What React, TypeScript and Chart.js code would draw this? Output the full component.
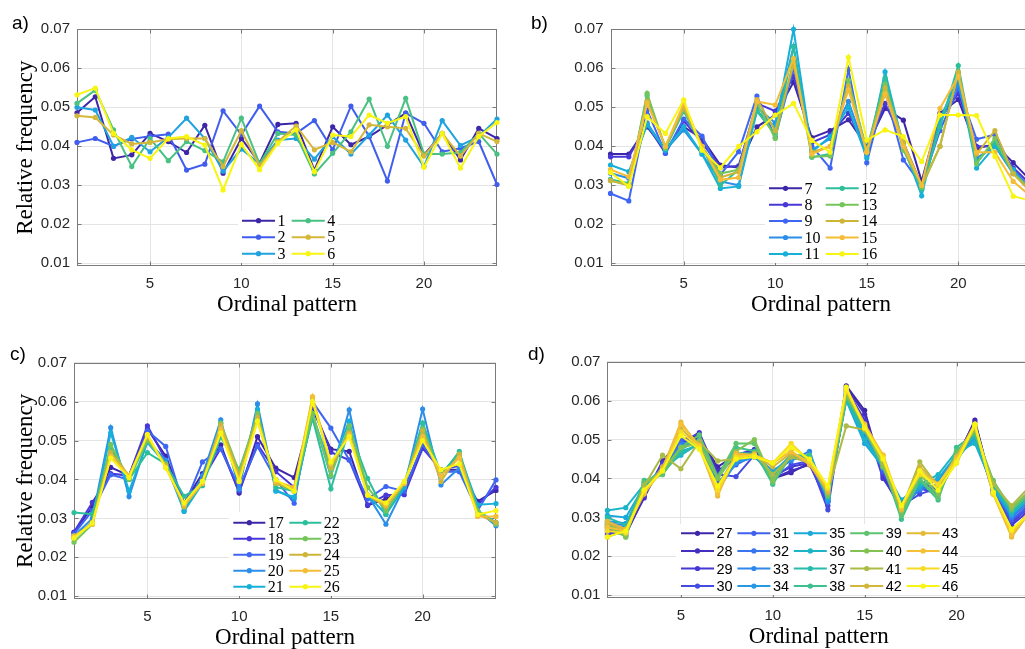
import React, { useEffect, useRef } from "react";
import { Chart, registerables } from "chart.js";

Chart.register(...registerables);

// ---------- shared axis data ----------
const PATTERNS = [1, 2, 3, 4, 5, 6, 7, 8, 9, 10, 11, 12, 13, 14, 15, 16, 17, 18, 19, 20, 21, 22, 23, 24];
const X_TICKS = [5, 10, 15, 20];
const Y_TICKS = [0.01, 0.02, 0.03, 0.04, 0.05, 0.06, 0.07];
const Y_MIN = 0.0093;
const Y_MAX = 0.07;
const X_TITLE = "Ordinal pattern";
const Y_TITLE = "Relative frequency";

// ---------- panel a ----------
const A_LABELS = ["1", "2", "3", "4", "5", "6"];
const S1 = [0.0486, 0.0527, 0.0369, 0.0378, 0.0433, 0.0412, 0.0384, 0.0454, 0.0331, 0.042, 0.0357, 0.0456, 0.0459, 0.0339, 0.045, 0.0404, 0.0425, 0.0455, 0.0485, 0.0378, 0.0433, 0.0365, 0.0446, 0.042];
const S2 = [0.041, 0.042, 0.04, 0.0419, 0.0426, 0.0431, 0.0339, 0.0354, 0.0491, 0.043, 0.0503, 0.0437, 0.0433, 0.0466, 0.0391, 0.0503, 0.0425, 0.0311, 0.0485, 0.0459, 0.0386, 0.0395, 0.0412, 0.0302];
const S3 = [0.05, 0.0493, 0.04, 0.0423, 0.0386, 0.0423, 0.0472, 0.042, 0.0336, 0.0393, 0.0355, 0.0416, 0.042, 0.0367, 0.0425, 0.038, 0.0429, 0.048, 0.0416, 0.0348, 0.0466, 0.0402, 0.0425, 0.047];
const S4 = [0.051, 0.0544, 0.0442, 0.0348, 0.042, 0.0363, 0.0412, 0.0389, 0.036, 0.0472, 0.0355, 0.0433, 0.0429, 0.0329, 0.0382, 0.0437, 0.0521, 0.04, 0.0523, 0.038, 0.038, 0.0384, 0.0433, 0.038];
const S5 = [0.0478, 0.0474, 0.0429, 0.0406, 0.041, 0.0418, 0.042, 0.042, 0.0348, 0.044, 0.035, 0.0412, 0.0452, 0.0391, 0.041, 0.0386, 0.0455, 0.045, 0.0446, 0.0375, 0.0433, 0.0375, 0.0433, 0.0412];
const S6 = [0.0532, 0.0549, 0.0433, 0.0391, 0.0369, 0.042, 0.0425, 0.0403, 0.0288, 0.0405, 0.034, 0.0408, 0.0442, 0.0335, 0.0429, 0.0425, 0.048, 0.0459, 0.0476, 0.0346, 0.0433, 0.0344, 0.0425, 0.0461];

// ---------- panel b ----------
const B_LABELS = ["7", "8", "9", "10", "11", "12", "13", "14", "15", "16"];
const S7 = [0.038, 0.038, 0.045, 0.039, 0.045, 0.042, 0.0352, 0.0345, 0.045, 0.048, 0.0565, 0.0422, 0.044, 0.0468, 0.04, 0.0497, 0.0467, 0.031, 0.0485, 0.052, 0.0395, 0.0405, 0.0358, 0.031];
const S8 = [0.0373, 0.0373, 0.0455, 0.0382, 0.0465, 0.041, 0.0345, 0.035, 0.051, 0.049, 0.058, 0.041, 0.043, 0.0485, 0.039, 0.051, 0.041, 0.03, 0.047, 0.0535, 0.04, 0.04, 0.0345, 0.03];
const S9 = [0.0279, 0.026, 0.0493, 0.0382, 0.047, 0.0426, 0.0327, 0.0386, 0.0529, 0.0423, 0.06, 0.04, 0.0344, 0.0597, 0.0358, 0.054, 0.0365, 0.03, 0.044, 0.055, 0.0418, 0.043, 0.034, 0.029];
const S10 = [0.0331, 0.0318, 0.046, 0.039, 0.0442, 0.038, 0.031, 0.03, 0.05, 0.046, 0.0656, 0.039, 0.042, 0.0515, 0.038, 0.055, 0.04, 0.029, 0.046, 0.056, 0.037, 0.04, 0.033, 0.029];
const S11 = [0.0352, 0.0335, 0.0455, 0.039, 0.045, 0.038, 0.0292, 0.0297, 0.049, 0.045, 0.07, 0.0385, 0.0425, 0.05, 0.037, 0.0591, 0.04, 0.0273, 0.047, 0.0575, 0.0344, 0.04, 0.034, 0.028];
const S12 = [0.0315, 0.0305, 0.053, 0.0395, 0.049, 0.04, 0.03, 0.034, 0.049, 0.043, 0.0655, 0.0372, 0.038, 0.056, 0.039, 0.0575, 0.0405, 0.029, 0.045, 0.0607, 0.036, 0.041, 0.033, 0.029];
const S13 = [0.0312, 0.03, 0.0536, 0.0395, 0.0495, 0.04, 0.033, 0.034, 0.051, 0.042, 0.062, 0.0373, 0.0375, 0.057, 0.039, 0.056, 0.039, 0.0295, 0.04, 0.059, 0.0355, 0.042, 0.033, 0.029];
const S14 = [0.0312, 0.03, 0.0515, 0.04, 0.05, 0.04, 0.032, 0.0335, 0.052, 0.044, 0.061, 0.0385, 0.04, 0.0555, 0.0385, 0.055, 0.041, 0.03, 0.04, 0.059, 0.038, 0.044, 0.033, 0.028];
const S15 = [0.034, 0.0322, 0.051, 0.04, 0.051, 0.04, 0.0314, 0.032, 0.0515, 0.0506, 0.0625, 0.038, 0.04, 0.0545, 0.0385, 0.0535, 0.04, 0.03, 0.0497, 0.058, 0.0385, 0.0385, 0.031, 0.027];
const S16 = [0.0333, 0.0297, 0.0476, 0.0433, 0.0519, 0.039, 0.0345, 0.04, 0.0437, 0.048, 0.051, 0.0415, 0.0385, 0.0628, 0.0416, 0.0442, 0.0425, 0.0361, 0.048, 0.048, 0.0479, 0.0374, 0.0272, 0.026];

// ---------- panel c ----------
const C_LABELS = ["17", "18", "19", "20", "21", "22", "23", "24", "25", "26"];
const S17 = [0.0264, 0.033, 0.0431, 0.041, 0.053, 0.046, 0.034, 0.0415, 0.0489, 0.0365, 0.051, 0.0429, 0.0405, 0.058, 0.0478, 0.0472, 0.0333, 0.035, 0.0375, 0.0485, 0.0425, 0.0425, 0.0344, 0.0372];
const S18 = [0.0265, 0.0341, 0.0415, 0.041, 0.0538, 0.045, 0.034, 0.04, 0.048, 0.037, 0.049, 0.042, 0.038, 0.059, 0.047, 0.045, 0.0335, 0.036, 0.0361, 0.048, 0.0425, 0.0435, 0.0335, 0.038];
const S19 = [0.026, 0.032, 0.0412, 0.04, 0.0525, 0.0485, 0.033, 0.0445, 0.0478, 0.038, 0.0485, 0.04, 0.0339, 0.06, 0.0532, 0.045, 0.035, 0.0382, 0.037, 0.049, 0.042, 0.042, 0.032, 0.0399];
const S20 = [0.0255, 0.03, 0.0533, 0.0356, 0.05, 0.045, 0.032, 0.041, 0.0553, 0.0375, 0.0594, 0.0373, 0.035, 0.057, 0.0408, 0.0579, 0.036, 0.0285, 0.038, 0.0581, 0.0386, 0.043, 0.032, 0.0281];
const S21 = [0.025, 0.029, 0.052, 0.037, 0.0495, 0.044, 0.0318, 0.039, 0.0545, 0.04, 0.058, 0.037, 0.0355, 0.0565, 0.043, 0.055, 0.036, 0.031, 0.038, 0.0545, 0.0415, 0.0465, 0.0335, 0.0338];
const S22 = [0.0315, 0.0311, 0.048, 0.04, 0.0469, 0.044, 0.0357, 0.0384, 0.051, 0.0425, 0.056, 0.038, 0.037, 0.0557, 0.0376, 0.053, 0.0403, 0.031, 0.039, 0.0545, 0.041, 0.0472, 0.032, 0.029];
const S23 = [0.0239, 0.0285, 0.049, 0.04, 0.05, 0.044, 0.033, 0.039, 0.0545, 0.042, 0.057, 0.039, 0.037, 0.057, 0.041, 0.0538, 0.038, 0.032, 0.039, 0.053, 0.041, 0.046, 0.032, 0.0285];
const S24 = [0.025, 0.029, 0.047, 0.041, 0.051, 0.0435, 0.033, 0.0395, 0.054, 0.041, 0.056, 0.039, 0.0375, 0.061, 0.043, 0.052, 0.036, 0.033, 0.039, 0.0525, 0.0395, 0.0465, 0.031, 0.029];
const S25 = [0.0255, 0.0285, 0.046, 0.041, 0.0515, 0.043, 0.0335, 0.039, 0.053, 0.04, 0.055, 0.0395, 0.038, 0.0613, 0.044, 0.0515, 0.036, 0.0335, 0.039, 0.051, 0.041, 0.0455, 0.0305, 0.0305];
const S26 = [0.025, 0.0288, 0.0455, 0.0405, 0.0515, 0.043, 0.034, 0.0395, 0.052, 0.0395, 0.055, 0.04, 0.037, 0.06, 0.0445, 0.051, 0.036, 0.034, 0.0395, 0.05, 0.0425, 0.044, 0.031, 0.032];

// ---------- panel d ----------
const D_LABELS = ["27", "28", "29", "30", "31", "32", "33", "34", "35", "36", "37", "38", "39", "40", "41", "42", "43", "44", "45", "46"];
const S27 = [0.0265, 0.0255, 0.0355, 0.044, 0.0495, 0.0505, 0.043, 0.046, 0.047, 0.04, 0.0415, 0.044, 0.0355, 0.0638, 0.0575, 0.041, 0.0325, 0.039, 0.037, 0.045, 0.055, 0.0365, 0.0285, 0.033];
const S28 = [0.027, 0.026, 0.035, 0.0445, 0.05, 0.051, 0.042, 0.045, 0.0465, 0.04, 0.042, 0.0435, 0.034, 0.0635, 0.0565, 0.0405, 0.032, 0.0385, 0.0365, 0.0455, 0.0545, 0.037, 0.029, 0.0335];
const S29 = [0.026, 0.0265, 0.0355, 0.044, 0.049, 0.0518, 0.041, 0.046, 0.0475, 0.0405, 0.043, 0.044, 0.033, 0.063, 0.055, 0.04, 0.033, 0.0375, 0.036, 0.045, 0.053, 0.0365, 0.028, 0.032];
const S30 = [0.0255, 0.027, 0.036, 0.0435, 0.0495, 0.05, 0.041, 0.0405, 0.046, 0.04, 0.0435, 0.0445, 0.032, 0.0625, 0.053, 0.0415, 0.033, 0.036, 0.0375, 0.0445, 0.052, 0.036, 0.029, 0.0325];
const S31 = [0.0275, 0.027, 0.0365, 0.043, 0.05, 0.0495, 0.039, 0.0435, 0.046, 0.041, 0.045, 0.045, 0.034, 0.062, 0.0515, 0.042, 0.032, 0.0375, 0.038, 0.045, 0.0515, 0.037, 0.0295, 0.033];
const S32 = [0.028, 0.0275, 0.037, 0.0425, 0.049, 0.0495, 0.038, 0.044, 0.0455, 0.0415, 0.045, 0.046, 0.0345, 0.0615, 0.051, 0.0425, 0.033, 0.037, 0.0385, 0.0455, 0.051, 0.0375, 0.03, 0.034];
const S33 = [0.0285, 0.028, 0.037, 0.042, 0.0485, 0.049, 0.038, 0.0445, 0.046, 0.042, 0.0445, 0.047, 0.034, 0.0615, 0.0505, 0.043, 0.0335, 0.038, 0.0395, 0.0455, 0.051, 0.0375, 0.0305, 0.0345];
const S34 = [0.029, 0.0285, 0.0375, 0.042, 0.048, 0.0495, 0.037, 0.044, 0.0455, 0.042, 0.045, 0.0455, 0.0345, 0.061, 0.05, 0.043, 0.033, 0.0375, 0.04, 0.045, 0.0505, 0.037, 0.0305, 0.035];
const S35 = [0.0305, 0.03, 0.038, 0.042, 0.047, 0.0485, 0.038, 0.045, 0.046, 0.041, 0.046, 0.045, 0.0355, 0.06, 0.049, 0.043, 0.0345, 0.038, 0.04, 0.046, 0.0495, 0.0375, 0.031, 0.0355];
const S36 = [0.0318, 0.0325, 0.0385, 0.0425, 0.046, 0.049, 0.038, 0.045, 0.046, 0.0415, 0.046, 0.0455, 0.035, 0.0605, 0.05, 0.043, 0.0335, 0.0385, 0.041, 0.047, 0.049, 0.038, 0.031, 0.035];
const S37 = [0.03, 0.028, 0.039, 0.0415, 0.0465, 0.049, 0.04, 0.0465, 0.0465, 0.04, 0.046, 0.0455, 0.0355, 0.06, 0.052, 0.043, 0.032, 0.039, 0.036, 0.0465, 0.051, 0.0385, 0.0315, 0.0355];
const S38 = [0.029, 0.025, 0.0395, 0.041, 0.0475, 0.05, 0.04, 0.048, 0.047, 0.0385, 0.046, 0.046, 0.036, 0.061, 0.053, 0.0435, 0.0295, 0.0395, 0.0345, 0.048, 0.0515, 0.039, 0.032, 0.036];
const S39 = [0.028, 0.0255, 0.039, 0.041, 0.048, 0.0512, 0.0405, 0.049, 0.049, 0.039, 0.0465, 0.0445, 0.0355, 0.061, 0.0535, 0.0435, 0.0305, 0.04, 0.035, 0.047, 0.052, 0.0395, 0.032, 0.0365];
const S40 = [0.0275, 0.025, 0.0385, 0.042, 0.048, 0.049, 0.04, 0.047, 0.05, 0.0395, 0.046, 0.0445, 0.036, 0.0615, 0.054, 0.043, 0.0315, 0.041, 0.036, 0.046, 0.0525, 0.039, 0.0325, 0.037];
const S41 = [0.025, 0.0265, 0.038, 0.046, 0.0425, 0.0495, 0.0445, 0.045, 0.0465, 0.041, 0.0455, 0.044, 0.0365, 0.0535, 0.0525, 0.044, 0.032, 0.0443, 0.038, 0.044, 0.053, 0.0385, 0.033, 0.038];
const S42 = [0.0285, 0.0265, 0.0365, 0.043, 0.053, 0.048, 0.038, 0.046, 0.046, 0.043, 0.0465, 0.044, 0.0365, 0.0625, 0.053, 0.045, 0.0325, 0.043, 0.0385, 0.045, 0.0535, 0.0365, 0.0255, 0.032];
const S43 = [0.029, 0.027, 0.036, 0.0425, 0.0545, 0.048, 0.0355, 0.0465, 0.046, 0.044, 0.047, 0.0435, 0.037, 0.0625, 0.0535, 0.046, 0.032, 0.042, 0.0385, 0.0455, 0.054, 0.036, 0.025, 0.0315];
const S44 = [0.0275, 0.0265, 0.0365, 0.042, 0.054, 0.0485, 0.036, 0.046, 0.046, 0.044, 0.047, 0.044, 0.0375, 0.063, 0.054, 0.046, 0.0325, 0.0415, 0.0385, 0.045, 0.0535, 0.036, 0.0255, 0.032];
const S45 = [0.0265, 0.026, 0.037, 0.042, 0.052, 0.048, 0.037, 0.0455, 0.046, 0.044, 0.049, 0.0445, 0.0375, 0.063, 0.0535, 0.0455, 0.033, 0.041, 0.0385, 0.0445, 0.0535, 0.036, 0.0265, 0.031];
const S46 = [0.025, 0.0265, 0.037, 0.042, 0.051, 0.0475, 0.038, 0.045, 0.0455, 0.044, 0.048, 0.045, 0.038, 0.0635, 0.053, 0.045, 0.033, 0.042, 0.037, 0.044, 0.054, 0.0365, 0.027, 0.031];

const A_SERIES = [S1, S2, S3, S4, S5, S6];
const B_SERIES = [S7, S8, S9, S10, S11, S12, S13, S14, S15, S16];
const C_SERIES = [S17, S18, S19, S20, S21, S22, S23, S24, S25, S26];
const D_SERIES = [S27, S28, S29, S30, S31, S32, S33, S34, S35, S36, S37, S38, S39, S40, S41, S42, S43, S44, S45, S46];

// ---------- styles ----------
const PALETTE = ["#3e26a8", "#4838d8", "#3f66f2", "#2b8ee9", "#17b0d8", "#2dbf9c", "#74c55a", "#cdb53a", "#f5bd37", "#f8f512"];
const SANS = "'Liberation Sans', Arial, Helvetica, sans-serif";
const SERIF = "'Liberation Serif', 'Times New Roman', serif";
const GRID_COLOR = "#e4e4e4";
const AXIS_COLOR = "#7a7a7a";
const TEXT_COLOR = "#262626";

function hexToRgb(h: string) {
  const n = parseInt(h.slice(1), 16);
  return [(n >> 16) & 255, (n >> 8) & 255, n & 255];
}
function samplePalette(n: number): string[] {
  const out: string[] = [];
  for (let i = 0; i < n; i++) {
    const t = n === 1 ? 0 : (i / (n - 1)) * (PALETTE.length - 1);
    const k = Math.min(Math.floor(t), PALETTE.length - 2);
    const f = t - k;
    const a = hexToRgb(PALETTE[k]);
    const b = hexToRgb(PALETTE[k + 1]);
    const c = a.map((v, j) => Math.round(v + (b[j] - v) * f));
    out.push(`rgb(${c[0]},${c[1]},${c[2]})`);
  }
  return out;
}

type LegendCfg = {
  x0: number; y0: number; colW: number; rowH: number; rows: number; lineLen: number;
  font: string; box: [number, number, number, number];
};
type PanelCfg = {
  tag: string; tagX: number; tagY: number;
  left: number; top: number; width: number; height: number;
  padL: number; padT: number; padR: number; yW: number; yTitle: boolean;
  series: number[][]; labels: string[]; legend: LegendCfg;
};

const PANELS: PanelCfg[] = [
  {
    tag: "a)", tagX: 12, tagY: 22.5, left: 0, top: 0, width: 520, height: 319,
    padL: 12, padT: 29.3, padR: 23, yW: 65, yTitle: true, series: A_SERIES, labels: A_LABELS,
    legend: { x0: 242, y0: 220.7, colW: 49.7, rowH: 16.5, rows: 3, lineLen: 33, font: `16px ${SERIF}`, box: [238, 211, 100, 52] },
  },
  {
    tag: "b)", tagX: 531, tagY: 22.5, left: 530, top: 0, width: 520, height: 319,
    padL: 0, padT: 29.3, padR: 18.5, yW: 80.5, yTitle: false, series: B_SERIES, labels: B_LABELS,
    legend: { x0: 769, y0: 188.3, colW: 56.7, rowH: 16.4, rows: 5, lineLen: 33, font: `16px ${SERIF}`, box: [765, 180, 111, 83] },
  },
  {
    tag: "c)", tagX: 10, tagY: 354, left: 0, top: 330, width: 520, height: 322,
    padL: 12, padT: 32.7, padR: 24, yW: 62, yTitle: true, series: C_SERIES, labels: C_LABELS,
    legend: { x0: 233.3, y0: 522.7, colW: 56, rowH: 16, rows: 5, lineLen: 32, font: `16px ${SERIF}`, box: [229, 512, 111, 84] },
  },
  {
    tag: "d)", tagX: 528, tagY: 354, left: 530, top: 330, width: 520, height: 321,
    padL: 0, padT: 31.7, padR: 20, yW: 77.4, yTitle: false, series: D_SERIES, labels: D_LABELS,
    legend: { x0: 681, y0: 533.3, colW: 56.4, rowH: 17.6, rows: 4, lineLen: 33, font: `14.5px ${SANS}`, box: [676, 524, 284, 71] },
  },
];

const framePlugin = {
  id: "matlabFrame",
  beforeDatasetsDraw(chart: any) {
    const { ctx, chartArea: a, scales } = chart;
    const L = Math.round(a.left) + 0.5, R = Math.round(a.right) - 0.5;
    const T = Math.round(a.top) + 0.5, B = Math.round(a.bottom) - 0.5;
    ctx.save();
    ctx.strokeStyle = AXIS_COLOR;
    ctx.lineWidth = 1;
    ctx.strokeRect(L, T, R - L, B - T);
    ctx.beginPath();
    X_TICKS.forEach((v) => {
      const px = Math.round(scales.x.getPixelForValue(v)) + 0.5;
      ctx.moveTo(px, B); ctx.lineTo(px, B - 4);
      ctx.moveTo(px, T); ctx.lineTo(px, T + 4);
    });
    Y_TICKS.forEach((v) => {
      const py = Math.round(scales.y.getPixelForValue(v)) + 0.5;
      ctx.moveTo(L, py); ctx.lineTo(L + 4, py);
      ctx.moveTo(R, py); ctx.lineTo(R - 4, py);
    });
    ctx.stroke();
    ctx.restore();
  },
};

function makeLegendPlugin(p: PanelCfg) {
  return {
    id: "panelLegend",
    afterDatasetsDraw(chart: any) {
      const { ctx } = chart;
      const lg = p.legend;
      ctx.save();
      ctx.translate(-p.left, -p.top);
      ctx.fillStyle = "#ffffff";
      ctx.fillRect(lg.box[0], lg.box[1], lg.box[2], lg.box[3]);
      chart.data.datasets.forEach((ds: any, i: number) => {
        const col = Math.floor(i / lg.rows);
        const row = i % lg.rows;
        const x = lg.x0 + col * lg.colW;
        const y = lg.y0 + row * lg.rowH;
        ctx.strokeStyle = ds.borderColor;
        ctx.lineWidth = 2;
        ctx.beginPath();
        ctx.moveTo(x, y);
        ctx.lineTo(x + lg.lineLen, y);
        ctx.stroke();
        ctx.fillStyle = ds.borderColor;
        ctx.beginPath();
        ctx.arc(x + lg.lineLen / 2, y, 2.6, 0, Math.PI * 2);
        ctx.fill();
        ctx.fillStyle = "#000000";
        ctx.font = lg.font;
        ctx.textAlign = "left";
        ctx.textBaseline = "middle";
        ctx.fillText(ds.label, x + lg.lineLen + 2.5, y + 1);
      });
      ctx.restore();
    },
  };
}

function Panel({ p }: { p: PanelCfg }) {
  const ref = useRef<HTMLCanvasElement | null>(null);
  useEffect(() => {
    if (!ref.current) return;
    const colors = samplePalette(p.series.length);
    const chart = new Chart(ref.current, {
      type: "line",
      data: {
        datasets: p.series.map((vals, i) => ({
          label: p.labels[i],
          data: vals.map((v, j) => ({ x: PATTERNS[j], y: v })),
          borderColor: colors[i],
          backgroundColor: colors[i],
          pointBackgroundColor: colors[i],
          pointBorderWidth: 0,
          pointRadius: 2.6,
          borderWidth: 2,
          tension: 0,
          fill: false,
          clip: false as any,
          order: -i,
        })),
      },
      options: {
        animation: false,
        responsive: false,
        maintainAspectRatio: false,
        events: [],
        layout: { padding: { left: p.padL, top: p.padT, right: p.padR, bottom: 0 } },
        plugins: { legend: { display: false }, tooltip: { enabled: false }, title: { display: false } },
        scales: {
          x: {
            type: "linear",
            min: PATTERNS[0],
            max: PATTERNS[PATTERNS.length - 1],
            afterBuildTicks: (s: any) => { s.ticks = X_TICKS.map((v) => ({ value: v })); },
            afterFit: (s: any) => { s.height = 53; },
            grid: { color: GRID_COLOR, drawTicks: false, lineWidth: 1 },
            border: { display: false },
            ticks: { padding: 9, autoSkip: false, maxRotation: 0, color: TEXT_COLOR, font: { family: SANS, size: 15 }, callback: (v: any) => String(v) },
            title: { display: true, text: X_TITLE, color: "#000000", font: { family: SERIF, size: 23 }, padding: 0 },
          },
          y: {
            type: "linear",
            min: Y_MIN,
            max: Y_MAX,
            afterBuildTicks: (s: any) => { s.ticks = Y_TICKS.map((v) => ({ value: v })); },
            afterFit: (s: any) => { s.width = p.yW; },
            grid: { color: GRID_COLOR, drawTicks: false, lineWidth: 1 },
            border: { display: false },
            ticks: { padding: 7, autoSkip: false, color: TEXT_COLOR, font: { family: SANS, size: 15 }, callback: (v: any) => Number(v).toFixed(2) },
            title: { display: p.yTitle, text: Y_TITLE, color: "#000000", font: { family: SERIF, size: 23 }, padding: 0 },
          },
        },
      } as any,
      plugins: [framePlugin, makeLegendPlugin(p)],
    });
    return () => chart.destroy();
  }, [p]);
  return (
    <>
      <canvas
        ref={ref}
        width={p.width}
        height={p.height}
        style={{ position: "absolute", left: p.left, top: p.top, width: p.width, height: p.height }}
      />
      <div
        style={{
          position: "absolute", left: p.tagX, top: p.tagY - 11, height: 22, lineHeight: "22px",
          fontFamily: SANS, fontSize: 19, color: "#000", whiteSpace: "nowrap",
        }}
      >
        {p.tag}
      </div>
    </>
  );
}

export default function App() {
  return (
    <div style={{ position: "fixed", left: 0, top: 0, width: 1025, height: 649, overflow: "hidden", background: "#ffffff" }}>
      {PANELS.map((p) => (
        <Panel key={p.tag} p={p} />
      ))}
    </div>
  );
}
